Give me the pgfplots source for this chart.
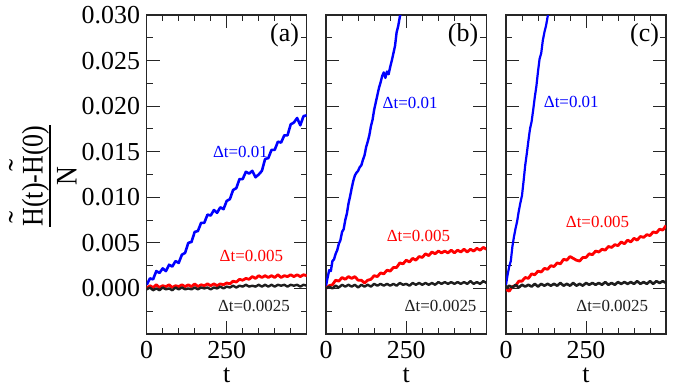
\documentclass[border=0pt]{standalone}
\usepackage{pgfplots}
\pgfplotsset{compat=1.18}
\usepackage{fontspec}
\setmainfont{Liberation Serif}
\definecolor{cblue}{RGB}{0,0,255}
\definecolor{cred}{RGB}{255,0,0}
\definecolor{cblack}{RGB}{30,30,30}
\pgfplotsset{panel/.style={
  scale only axis, width=160bp, height=319bp,
  xmin=0, xmax=500, ymin=-0.005, ymax=0.030,
  xtick={0,250,500}, xticklabels={0,250,},
  minor xtick={50,100,150,200,300,350,400,450},
  ytick={0,0.005,0.01,0.015,0.02,0.025,0.03},
  minor ytick={-0.0025,0.0025,0.0075,0.0125,0.0175,0.0225,0.0275},
  major tick length=13bp, minor tick length=6bp,
  tick style={line width=1bp, color=black!85},
  axis line style={line width=1.3bp, color=black!85},
  scaled y ticks=false,
  /pgf/number format/assume math mode=true,
  yticklabel style={inner xsep=6.5bp, /pgf/number format/fixed, /pgf/number format/fixed zerofill, /pgf/number format/precision=3},
  ticklabel style={font=\fontsize{26}{30}\selectfont},
  xticklabel style={inner ysep=7bp},
  xlabel={t},
  xlabel style={font=\fontsize{26}{30}\selectfont, at={(axis description cs:0.5,0)}, anchor=base, yshift=-48bp},
  every axis plot/.append style={line join=round, mark=none},
  clip=true,
}}
\newcommand{\lab}{\fontsize{17}{20}\selectfont}
\newcommand{\Ht}{\makebox[0pt][l]{\hspace{0.12em}\raisebox{0.45em}{\scalebox{1.4}[1]{˜}}}H}
\begin{document}
\begin{tikzpicture}
\useasboundingbox (0,0) rectangle (681bp,-388bp);
% ---------------- panel (a)
\begin{axis}[panel, at={(146.7bp,-334bp)}, anchor=south west]
\addplot[cblue, line width=2.6bp] coordinates {(0,0.0004)(10,0.0011)(20,0.0010)(30,0.0019)(40,0.0017)(50,0.0022)(60,0.0019)(70,0.0026)(80,0.0024)(90,0.0030)(100,0.0028)(110,0.0037)(120,0.0039)(130,0.0050)(140,0.0051)(150,0.0062)(160,0.0063)(170,0.0072)(180,0.0072)(190,0.0081)(200,0.0080)(210,0.0086)(220,0.0083)(230,0.0089)(240,0.0087)(250,0.0096)(260,0.0098)(270,0.0108)(280,0.0110)(290,0.0120)(300,0.0120)(310,0.0128)(320,0.0126)(330,0.0129)(340,0.0122)(350,0.0125)(360,0.0129)(370,0.0142)(380,0.0143)(390,0.0152)(400,0.0152)(410,0.0161)(420,0.0160)(430,0.0168)(440,0.0168)(450,0.0180)(460,0.0182)(470,0.0187)(480,0.0179)(490,0.0189)(500,0.0190)};
\addplot[cred, line width=2.8bp] coordinates {(0,0.0000)(10,0.0003)(20,0.0001)(30,0.0004)(40,0.0001)(50,0.0003)(60,0.0002)(70,0.0004)(80,0.0001)(90,0.0003)(100,0.0002)(110,0.0004)(120,0.0002)(130,0.0004)(140,0.0002)(150,0.0005)(160,0.0002)(170,0.0004)(180,0.0003)(190,0.0005)(200,0.0003)(210,0.0005)(220,0.0003)(230,0.0005)(240,0.0004)(250,0.0006)(260,0.0005)(270,0.0008)(280,0.0007)(290,0.0010)(300,0.0009)(310,0.0011)(320,0.0010)(330,0.0013)(340,0.0011)(350,0.0014)(360,0.0012)(370,0.0014)(380,0.0012)(390,0.0014)(400,0.0012)(410,0.0015)(420,0.0012)(430,0.0014)(440,0.0013)(450,0.0015)(460,0.0013)(470,0.0015)(480,0.0013)(490,0.0015)(500,0.0014)};
\addplot[cblack, line width=2.4bp] coordinates {(0,-0.0001)(10,0.0001)(20,-0.0002)(30,0.0000)(40,-0.0002)(50,0.0001)(60,-0.0001)(70,0.0000)(80,-0.0002)(90,0.0001)(100,-0.0001)(110,0.0001)(120,-0.0001)(130,0.0000)(140,-0.0001)(150,0.0001)(160,-0.0001)(170,0.0001)(180,0.0000)(190,0.0001)(200,-0.0001)(210,0.0001)(220,0.0000)(230,0.0002)(240,0.0000)(250,0.0002)(260,0.0001)(270,0.0003)(280,0.0001)(290,0.0003)(300,0.0002)(310,0.0004)(320,0.0002)(330,0.0003)(340,0.0002)(350,0.0004)(360,0.0002)(370,0.0004)(380,0.0002)(390,0.0004)(400,0.0002)(410,0.0004)(420,0.0003)(430,0.0004)(440,0.0002)(450,0.0004)(460,0.0003)(470,0.0004)(480,0.0002)(490,0.0004)(500,0.0003)};
\node[text=cblue] at (axis cs:293,0.0150) {\lab Δt=0.01};
\node[text=cred] at (axis cs:327,0.0036) {\lab Δt=0.005};
\node[text=cblack] at (axis cs:335,-0.0019) {\lab Δt=0.0025};
\node at (axis cs:431,0.0278) {\fontsize{26}{30}\selectfont (a)};
\end{axis}
% ---------------- panel (b)
\begin{axis}[panel, at={(326bp,-334bp)}, anchor=south west, width=160.5bp, yticklabels={}]
\addplot[cblue, line width=2.4bp] coordinates {(0,0.0003)(5,0.0012)(10,0.0020)(15,0.0019)(20,0.0030)(25,0.0032)(30,0.0038)(35,0.0042)(40,0.0049)(45,0.0053)(50,0.0062)(55,0.0065)(60,0.0075)(65,0.0082)(70,0.0093)(75,0.0101)(80,0.0110)(85,0.0118)(90,0.0124)(95,0.0127)(100,0.0129)(105,0.0133)(110,0.0135)(115,0.0141)(120,0.0146)(125,0.0155)(130,0.0161)(135,0.0168)(140,0.0178)(145,0.0185)(150,0.0196)(155,0.0204)(160,0.0212)(165,0.0220)(170,0.0226)(175,0.0233)(180,0.0237)(185,0.0231)(190,0.0238)(195,0.0235)(200,0.0243)(205,0.0250)(210,0.0258)(215,0.0266)(220,0.0281)(225,0.0288)(230,0.0298)(235,0.0305)(240,0.0312)};
\addplot[cred, line width=2.8bp] coordinates {(0,0.0000)(10,0.0003)(20,0.0004)(30,0.0009)(40,0.0008)(50,0.0012)(60,0.0010)(70,0.0013)(80,0.0011)(90,0.0013)(100,0.0009)(110,0.0009)(120,0.0006)(130,0.0009)(140,0.0010)(150,0.0014)(160,0.0013)(170,0.0017)(180,0.0016)(190,0.0020)(200,0.0019)(210,0.0023)(220,0.0023)(230,0.0028)(240,0.0027)(250,0.0031)(260,0.0029)(270,0.0033)(280,0.0031)(290,0.0035)(300,0.0034)(310,0.0038)(320,0.0036)(330,0.0040)(340,0.0038)(350,0.0041)(360,0.0039)(370,0.0041)(380,0.0039)(390,0.0042)(400,0.0039)(410,0.0042)(420,0.0040)(430,0.0043)(440,0.0040)(450,0.0043)(460,0.0041)(470,0.0044)(480,0.0042)(490,0.0045)(500,0.0043)};
\addplot[cblack, line width=2.4bp] coordinates {(0,0.0000)(10,0.0002)(20,0.0000)(30,0.0003)(40,0.0001)(50,0.0004)(60,0.0002)(70,0.0004)(80,0.0002)(90,0.0004)(100,0.0001)(110,0.0004)(120,0.0002)(130,0.0004)(140,0.0002)(150,0.0005)(160,0.0003)(170,0.0005)(180,0.0003)(190,0.0005)(200,0.0003)(210,0.0005)(220,0.0003)(230,0.0006)(240,0.0004)(250,0.0005)(260,0.0003)(270,0.0006)(280,0.0004)(290,0.0006)(300,0.0004)(310,0.0006)(320,0.0004)(330,0.0006)(340,0.0004)(350,0.0007)(360,0.0005)(370,0.0007)(380,0.0005)(390,0.0007)(400,0.0005)(410,0.0007)(420,0.0005)(430,0.0007)(440,0.0005)(450,0.0008)(460,0.0005)(470,0.0007)(480,0.0005)(490,0.0008)(500,0.0006)};
\node[text=cblue] at (axis cs:262,0.0203) {\lab Δt=0.01};
\node[text=cred] at (axis cs:288,0.0058) {\lab Δt=0.005};
\node[text=cblack] at (axis cs:357,-0.0019) {\lab Δt=0.0025};
\node at (axis cs:427,0.0278) {\fontsize{26}{30}\selectfont (b)};
\end{axis}
% ---------------- panel (c)
\begin{axis}[panel, at={(506bp,-334bp)}, anchor=south west, yticklabels={}]
\addplot[cblue, line width=2.2bp] coordinates {(0,0.0004)(5,0.0015)(10,0.0024)(15,0.0030)(20,0.0046)(25,0.0057)(30,0.0066)(35,0.0074)(40,0.0085)(45,0.0094)(50,0.0102)(55,0.0118)(60,0.0135)(65,0.0148)(70,0.0162)(75,0.0175)(80,0.0183)(85,0.0196)(90,0.0210)(95,0.0222)(100,0.0238)(105,0.0252)(110,0.0258)(115,0.0272)(120,0.0281)(125,0.0288)(130,0.0298)(135,0.0306)(140,0.0315)};
\addplot[cred, line width=2.8bp] coordinates {(0,-0.0001)(10,-0.0003)(20,0.0002)(30,0.0003)(40,0.0008)(50,0.0008)(60,0.0012)(70,0.0011)(80,0.0016)(90,0.0015)(100,0.0019)(110,0.0018)(120,0.0022)(130,0.0021)(140,0.0025)(150,0.0024)(160,0.0028)(170,0.0027)(180,0.0032)(190,0.0031)(200,0.0035)(210,0.0033)(220,0.0031)(230,0.0030)(240,0.0034)(250,0.0034)(260,0.0038)(270,0.0037)(280,0.0041)(290,0.0040)(300,0.0043)(310,0.0042)(320,0.0046)(330,0.0045)(340,0.0048)(350,0.0047)(360,0.0051)(370,0.0049)(380,0.0053)(390,0.0051)(400,0.0055)(410,0.0053)(420,0.0057)(430,0.0056)(440,0.0059)(450,0.0058)(460,0.0062)(470,0.0061)(480,0.0065)(490,0.0064)(500,0.0069)};
\addplot[cblack, line width=2.6bp] coordinates {(0,0.0000)(10,0.0003)(20,0.0001)(30,0.0004)(40,0.0001)(50,0.0004)(60,0.0002)(70,0.0004)(80,0.0002)(90,0.0005)(100,0.0002)(110,0.0005)(120,0.0003)(130,0.0005)(140,0.0003)(150,0.0005)(160,0.0003)(170,0.0006)(180,0.0003)(190,0.0005)(200,0.0003)(210,0.0006)(220,0.0003)(230,0.0005)(240,0.0003)(250,0.0006)(260,0.0004)(270,0.0006)(280,0.0004)(290,0.0006)(300,0.0004)(310,0.0007)(320,0.0004)(330,0.0006)(340,0.0004)(350,0.0007)(360,0.0005)(370,0.0007)(380,0.0005)(390,0.0007)(400,0.0005)(410,0.0008)(420,0.0005)(430,0.0007)(440,0.0005)(450,0.0008)(460,0.0005)(470,0.0008)(480,0.0006)(490,0.0008)(500,0.0006)};
\node[text=cblue] at (axis cs:204,0.0205) {\lab Δt=0.01};
\node[text=cred] at (axis cs:286,0.0073) {\lab Δt=0.005};
\node[text=cblack] at (axis cs:332,-0.0019) {\lab Δt=0.0025};
\node at (axis cs:433,0.0278) {\fontsize{26}{30}\selectfont (c)};
\end{axis}
% y label
\node[rotate=90, anchor=south, inner sep=0pt] at (76.7bp,-176bp) {\fontsize{30}{34}\selectfont\scalebox{0.87}[1]{\vbox{\halign{\hfil#\hfil\cr \Ht(t)-\Ht(0)\cr\noalign{\kern0.5bp\hrule height 1.5bp\kern6bp}N\cr}}}};
\end{tikzpicture}
\end{document}
